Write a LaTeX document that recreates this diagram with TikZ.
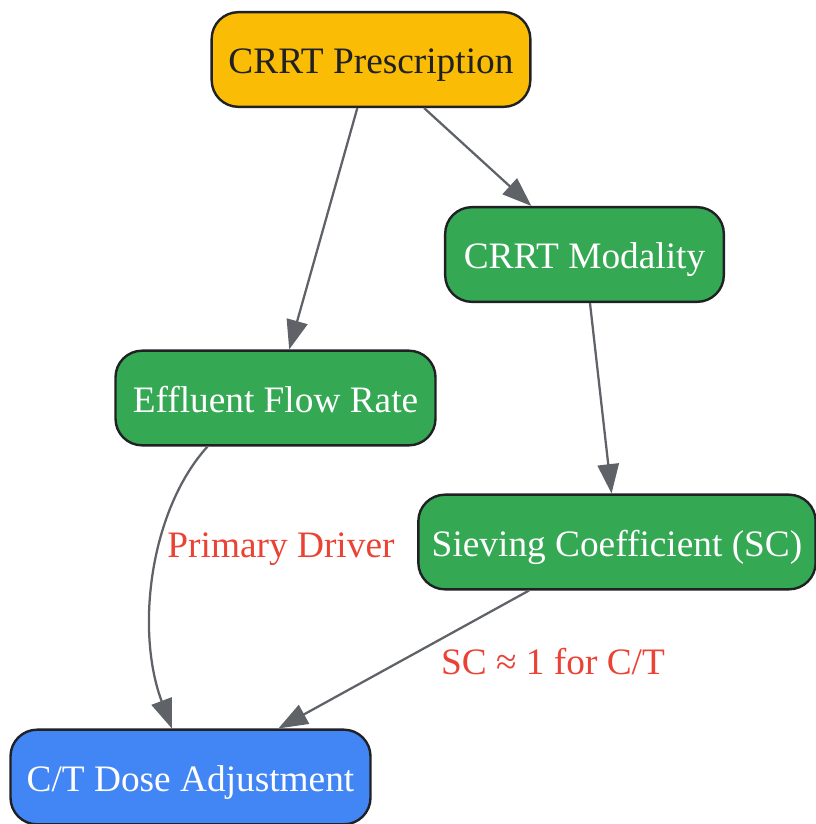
\documentclass[tikz,border=0pt]{standalone}
\usepackage{fontspec}
\setmainfont{Liberation Serif}
\usetikzlibrary{shapes, arrows.meta, positioning}
\definecolor{gorange}{HTML}{FBBC05}
\definecolor{ggreen}{HTML}{34A853}
\definecolor{gblue}{HTML}{4285F4}
\definecolor{gdark}{HTML}{202124}
\definecolor{ggray}{HTML}{5F6368}
\definecolor{gred}{HTML}{EA4335}
\tikzstyle{box} = [rectangle, rounded corners=20pt, draw=gdark, line width=1.8pt, minimum height=71pt, inner sep=0pt, text height=21pt, text depth=0pt, font=\fontsize{28}{33}\selectfont]
\tikzstyle{flow} = [-{Triangle[length=22pt, width=16pt]}, draw=ggray, line width=1.7pt]
\tikzstyle{lbl} = [text=gred, inner sep=0pt, text height=20pt, text depth=0pt, font=\fontsize{28}{33}\selectfont]

\begin{document}
\begin{tikzpicture}[x=0.75pt, y=-0.75pt]
  \useasboundingbox (0,0) rectangle (816,824);

  % top
  \node[box, fill=gorange, text=gdark, minimum width=239pt] (presc) at (371,59.5) {CRRT Prescription};

  % middle
  \node[box, fill=ggreen, text=white, minimum width=209pt] (mod) at (584.5,254.5) {CRRT Modality};
  \node[box, fill=ggreen, text=white, minimum width=240pt] (eff) at (275.5,398) {Effluent Flow Rate};
  \node[box, fill=ggreen, text=white, minimum width=298pt] (sc) at (617,542) {Sieving Coefficient (SC)};

  % bottom
  \node[box, fill=gblue, text=white, minimum width=270pt] (dose) at (190.5,777) {C/T Dose Adjustment};

  % edges
  \draw[flow] (presc) -- (mod);
  \draw[flow] (presc) -- (eff);
  \draw[flow] (mod) -- (sc);
  \draw[flow] ([xshift=-51pt]eff.south) .. controls (150,510) and (135,630) .. ([xshift=-14pt]dose.north);
  \draw[flow] (sc) -- (dose);

  % labels
  \node[lbl] (drv) at (281,544) {Primary Driver};
  \node[lbl] (scl) at (553,661) {SC ≈ 1 for C/T};
\end{tikzpicture}
\end{document}
